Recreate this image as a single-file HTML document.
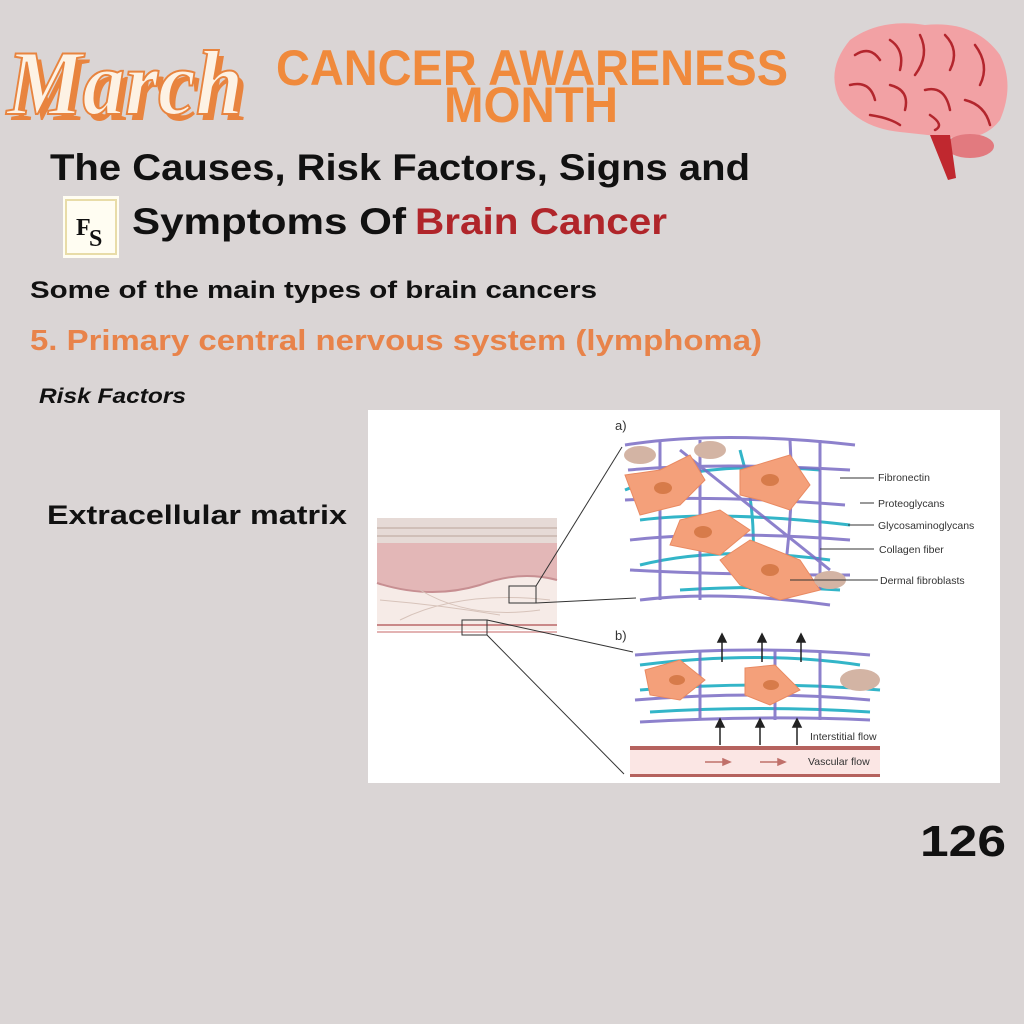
<!DOCTYPE html>
<html><head><meta charset="utf-8"><style>
html,body{margin:0;padding:0;background:#dad5d5;}
svg{display:block}
</style></head><body>
<svg width="1024" height="1024" viewBox="0 0 1024 1024" xmlns="http://www.w3.org/2000/svg" font-family="Liberation Sans, sans-serif">
<rect width="1024" height="1024" fill="#dad5d5"/>
<!-- March -->
<g font-family="Liberation Serif, serif" font-style="italic" font-weight="bold">
<text x="12" y="120" font-size="92" fill="#e8843f" textLength="236" lengthAdjust="spacingAndGlyphs">March</text>
<text x="7" y="114" font-size="92" fill="#fdf2e4" stroke="#e8843f" stroke-width="2" textLength="236" lengthAdjust="spacingAndGlyphs">March</text>
</g>
<g font-weight="bold" fill="#f08a3c">
<text x="276" y="85" font-size="50" textLength="512" lengthAdjust="spacingAndGlyphs">CANCER AWARENESS</text>
<text x="444" y="122" font-size="50" textLength="174" lengthAdjust="spacingAndGlyphs">MONTH</text>
</g>
<!-- brain -->
<g>
<path d="M850 40 Q880 18 925 25 Q975 20 1000 55 Q1015 85 1000 120 Q985 140 955 138 L900 132 Q860 128 840 100 Q825 70 850 40Z" fill="#f2a1a4"/>
<ellipse cx="970" cy="146" rx="24" ry="12" fill="#e27a7f"/>
<path d="M930 135 L948 180 L956 178 L950 135Z" fill="#c0282f"/>
<g stroke="#b3262d" stroke-width="2.5" fill="none" stroke-linecap="round">
<path d="M855 55 Q870 45 880 60"/><path d="M890 40 Q905 50 900 70"/><path d="M920 35 Q930 55 915 75"/><path d="M945 35 Q960 50 950 70"/><path d="M975 45 Q990 65 980 85"/><path d="M850 85 Q870 80 875 100"/><path d="M890 85 Q910 90 905 110"/><path d="M925 90 Q945 85 950 110"/><path d="M965 100 Q985 105 990 125"/><path d="M870 115 Q890 118 900 125"/><path d="M930 115 Q945 125 935 130"/>
</g>
</g>
<!-- title -->
<text x="50" y="180" font-size="37" font-weight="bold" fill="#111" textLength="700" lengthAdjust="spacingAndGlyphs">The Causes, Risk Factors, Signs and</text>
<text x="132" y="234" font-size="37" font-weight="bold" fill="#111" textLength="274" lengthAdjust="spacingAndGlyphs">Symptoms Of</text>
<text x="415" y="234" font-size="37" font-weight="bold" fill="#b0252a" textLength="252" lengthAdjust="spacingAndGlyphs">Brain Cancer</text>
<rect x="63" y="196" width="56" height="62" fill="#fffdf2"/>
<rect x="66" y="200" width="50" height="54" fill="none" stroke="#e8dca8" stroke-width="2"/>
<text x="76" y="235" font-family="Liberation Serif, serif" font-size="24" font-weight="bold" fill="#111">F</text>
<text x="89" y="246" font-family="Liberation Serif, serif" font-size="24" font-weight="bold" fill="#111">S</text>
<!-- subheads -->
<text x="30" y="298" font-size="24" font-weight="bold" fill="#111" textLength="567" lengthAdjust="spacingAndGlyphs">Some of the main types of brain cancers</text>
<text x="30" y="350" font-size="29" font-weight="bold" fill="#e8834a" textLength="732" lengthAdjust="spacingAndGlyphs">5. Primary central nervous system (lymphoma)</text>
<text x="39" y="403" font-size="21" font-weight="bold" font-style="italic" fill="#111" textLength="147" lengthAdjust="spacingAndGlyphs">Risk Factors</text>
<text x="47" y="524" font-size="27" font-weight="bold" fill="#111" textLength="300" lengthAdjust="spacingAndGlyphs">Extracellular matrix</text>
<text x="920" y="856" font-size="44" font-weight="bold" fill="#111" textLength="86" lengthAdjust="spacingAndGlyphs">126</text>
<!-- figure -->
<rect x="368" y="410" width="632" height="373" fill="#fff"/>
<!-- skin -->
<rect x="377" y="518" width="180" height="25" fill="#e6dad6"/>
<path d="M377 528 H557 M377 536 H557" stroke="#d0bfb8" stroke-width="2"/>
<path d="M377 543 H557 V580 Q520 570 480 585 Q430 600 377 583Z" fill="#e3b7b7"/>
<path d="M377 583 Q430 600 480 585 Q520 570 557 580 V630 H377Z" fill="#f6ebe7"/>
<path d="M377 583 Q430 600 480 585 Q520 570 557 580" stroke="#c78f92" stroke-width="2" fill="none"/>
<rect x="377" y="624" width="180" height="2" fill="#c98888"/>
<rect x="377" y="631" width="180" height="2" fill="#e3b3b3"/>
<g stroke="#d7c3ba" fill="none"><path d="M380 600 Q440 605 500 615"/><path d="M400 620 Q460 590 550 600"/><path d="M420 590 Q470 620 540 610"/></g>
<rect x="509" y="586" width="27" height="17" fill="none" stroke="#333" stroke-width="1"/>
<rect x="462" y="620" width="25" height="15" fill="none" stroke="#333" stroke-width="1"/>
<g stroke="#333" stroke-width="1"><line x1="536" y1="586" x2="622" y2="447"/><line x1="536" y1="603" x2="636" y2="598"/><line x1="487" y1="620" x2="633" y2="652"/><line x1="487" y1="635" x2="624" y2="774"/></g>
<text x="615" y="430" font-size="13" fill="#333">a)</text>
<text x="615" y="640" font-size="13" fill="#333">b)</text>
<!-- panel a -->
<g stroke="#33b5c8" stroke-width="3" fill="none">
<path d="M625 490 Q700 460 820 470"/><path d="M640 520 Q720 510 850 525"/><path d="M640 565 Q720 545 830 560"/><path d="M680 590 Q760 585 840 590"/><path d="M740 450 Q760 520 750 590"/>
</g>
<g stroke="#7a6cc4" stroke-width="3" fill="none" opacity="0.85">
<path d="M625 445 Q720 430 855 445"/><path d="M628 470 Q720 462 850 470"/><path d="M625 500 Q720 495 845 505"/><path d="M630 540 Q720 530 850 540"/><path d="M630 570 Q720 575 850 575"/><path d="M640 600 Q720 590 830 605"/>
<path d="M660 440 V600"/><path d="M700 440 V600"/><path d="M790 440 Q795 520 780 600"/><path d="M820 440 V590"/><path d="M680 450 L830 570"/>
</g>
<g fill="#f4a07a" stroke="#e98a62">
<path d="M625 475 L660 470 L690 455 L705 480 L680 505 L640 515Z"/>
<path d="M740 470 L790 455 L810 485 L790 510 L760 500 L740 495Z"/>
<path d="M680 520 L720 510 L750 530 L720 555 L670 545Z"/>
<path d="M720 560 L750 540 L800 560 L820 590 L780 600 L740 585Z"/>
</g>
<g fill="#d77b4a"><ellipse cx="663" cy="488" rx="9" ry="6"/><ellipse cx="770" cy="480" rx="9" ry="6"/><ellipse cx="703" cy="532" rx="9" ry="6"/><ellipse cx="770" cy="570" rx="9" ry="6"/></g>
<g fill="#d3b4a4"><ellipse cx="640" cy="455" rx="16" ry="9"/><ellipse cx="710" cy="450" rx="16" ry="9"/><ellipse cx="830" cy="580" rx="16" ry="9"/></g>
<!-- labels a -->
<g stroke="#333" stroke-width="1"><line x1="840" y1="478" x2="874" y2="478"/><line x1="860" y1="503" x2="874" y2="503"/><line x1="848" y1="525" x2="874" y2="525"/><line x1="820" y1="549" x2="874" y2="549"/><line x1="790" y1="580" x2="878" y2="580"/></g>
<g font-size="10.5" fill="#333">
<text x="878" y="481">Fibronectin</text><text x="878" y="507">Proteoglycans</text><text x="878" y="529">Glycosaminoglycans</text><text x="879" y="553">Collagen fiber</text><text x="880" y="584">Dermal fibroblasts</text>
</g>
<!-- panel b -->
<g stroke="#33b5c8" stroke-width="3" fill="none"><path d="M640 665 Q760 650 860 665"/><path d="M640 690 Q760 680 880 690"/><path d="M650 712 Q760 705 870 712"/></g>
<g stroke="#7a6cc4" stroke-width="3" fill="none" opacity="0.85"><path d="M635 655 Q760 645 870 655"/><path d="M635 700 Q760 690 870 700"/><path d="M640 722 Q760 715 870 720"/><path d="M700 650 V720"/><path d="M775 650 V720"/><path d="M820 650 V720"/></g>
<g fill="#f4a07a" stroke="#e98a62"><path d="M645 670 L680 660 L705 680 L680 700 L650 695Z"/><path d="M745 668 L775 665 L800 690 L770 705 L745 695Z"/></g>
<g fill="#d77b4a"><ellipse cx="677" cy="680" rx="8" ry="5"/><ellipse cx="771" cy="685" rx="8" ry="5"/></g>
<ellipse cx="860" cy="680" rx="20" ry="11" fill="#d3b4a4"/>
<g stroke="#222" stroke-width="1.5" fill="#222">
<line x1="722" y1="662" x2="722" y2="640"/><path d="M718 642 L722 634 L726 642Z"/>
<line x1="762" y1="662" x2="762" y2="640"/><path d="M758 642 L762 634 L766 642Z"/>
<line x1="801" y1="662" x2="801" y2="640"/><path d="M797 642 L801 634 L805 642Z"/>
<line x1="720" y1="745" x2="720" y2="725"/><path d="M716 727 L720 719 L724 727Z"/>
<line x1="760" y1="745" x2="760" y2="725"/><path d="M756 727 L760 719 L764 727Z"/>
<line x1="797" y1="745" x2="797" y2="725"/><path d="M793 727 L797 719 L801 727Z"/>
</g>
<text x="810" y="740" font-size="10.5" fill="#333">Interstitial flow</text>
<rect x="630" y="748" width="250" height="28" fill="#fbe6e4"/>
<rect x="630" y="746" width="250" height="4" fill="#b5625e"/>
<rect x="630" y="774" width="250" height="3" fill="#b5625e"/>
<g stroke="#c0706a" stroke-width="1.5" fill="#c0706a"><line x1="705" y1="762" x2="725" y2="762"/><path d="M723 759 L730 762 L723 765Z"/><line x1="760" y1="762" x2="780" y2="762"/><path d="M778 759 L785 762 L778 765Z"/></g>
<text x="808" y="765" font-size="10.5" fill="#333">Vascular flow</text>
</svg>
</body></html>
